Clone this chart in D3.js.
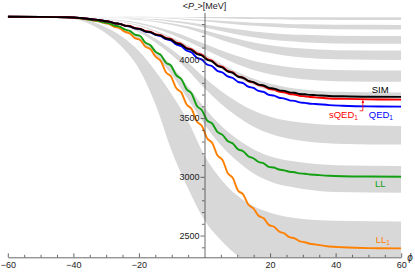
<!DOCTYPE html>
<html>
<head>
<meta charset="utf-8">
<script src="https://cdn.jsdelivr.net/npm/d3@7"></script>
<style>
  body { margin: 0; background: #fff; }
  text { font-family: "Liberation Sans", Arial, sans-serif; }
</style>
</head>
<body>
<div id="chart"></div>
<script>
// phase grid for the five curves (denser where they wiggle)
var phi = [-60, -50, -42, -38, -33.77, -32.20, -30.63, -29.06, -27.49, -25.92, -24.35, -22.78, -21.21, -19.63, -18.06,
  -16.49, -14.92, -13.35, -11.78, -10.21, -8.64, -7.07, -5.50, -3.93, -2.36, -0.79, 0.79, 2.36, 3.93, 5.50, 7.07,
  8.64, 10.21, 11.78, 13.35, 14.92, 16.49, 18.06, 19.63, 21.21, 22.78, 24.35, 25.92, 27.49, 29.06, 30.63, 32.20,
  33.77, 38, 42, 50, 60];

var sim = [4362, 4361, 4358, 4352, 4339, 4335, 4326, 4321, 4307, 4302, 4287, 4281, 4264, 4258, 4238,
  4231, 4210, 4201, 4177, 4168, 4137, 4125, 4092, 4079, 4045, 4032, 3996, 3982, 3944, 3930, 3897,
  3885, 3853, 3843, 3816, 3806, 3785, 3777, 3757, 3751, 3736, 3731, 3719, 3715, 3705, 3702, 3697,
  3695, 3688, 3685, 3681, 3680];

var sqed1 = [4362, 4361, 4358, 4352, 4339, 4335, 4326, 4321, 4307, 4302, 4287, 4283, 4266, 4261, 4241,
  4235, 4214, 4205, 4182, 4173, 4142, 4130, 4097, 4085, 4051, 4038, 4002, 3987, 3949, 3935, 3901,
  3888, 3855, 3844, 3815, 3804, 3781, 3771, 3749, 3742, 3725, 3719, 3705, 3700, 3689, 3685, 3679,
  3676, 3667, 3664, 3659, 3657];

var qed1 = [4362, 4361, 4358, 4352, 4339, 4335, 4326, 4321, 4307, 4302, 4287, 4280, 4263, 4257, 4236,
  4229, 4207, 4197, 4171, 4161, 4127, 4112, 4075, 4058, 4014, 3997, 3956, 3941, 3902, 3888, 3854,
  3841, 3808, 3797, 3767, 3756, 3731, 3722, 3698, 3691, 3673, 3666, 3651, 3646, 3633, 3629, 3622,
  3620, 3610, 3605, 3599, 3597];

var ll = [4362, 4361, 4358, 4350, 4331, 4326, 4314, 4307, 4287, 4279, 4254, 4242, 4210, 4198, 4142,
  4120, 4063, 4037, 3972, 3946, 3865, 3832, 3746, 3708, 3605, 3566, 3480, 3453, 3382, 3357, 3304,
  3284, 3234, 3218, 3175, 3158, 3126, 3115, 3085, 3079, 3062, 3055, 3043, 3039, 3029, 3026, 3020,
  3017, 3009, 3005, 3002, 3001];

var ll1 = [4362, 4361, 4358, 4348, 4329, 4323, 4310, 4301, 4276, 4266, 4235, 4220, 4180, 4165, 4108,
  4086, 4022, 3985, 3890, 3854, 3755, 3717, 3617, 3577, 3473, 3432, 3328, 3287, 3183, 3143, 3032,
  2989, 2884, 2851, 2764, 2731, 2669, 2647, 2591, 2575, 2534, 2518, 2486, 2477, 2451, 2443, 2430,
  2425, 2407, 2400, 2393, 2391];

// gray bands: upper and lower edge of each band on a coarser grid
var bandPhi = [-60, -45, -40, -35, -30, -25, -20, -15, -10, -5, 0, 5, 10, 15, 20, 25, 30, 40, 60];

var bandHi = [
  [4362, 4362, 4362, 4362, 4362, 4362, 4362, 4361, 4361, 4361, 4360, 4360, 4359, 4358, 4358, 4358, 4357, 4357, 4357],
  [4362, 4362, 4362, 4362, 4361, 4360, 4358, 4355, 4351, 4344, 4337, 4328, 4320, 4312, 4306, 4301, 4298, 4293, 4292],
  [4362, 4362, 4362, 4361, 4359, 4355, 4350, 4342, 4331, 4316, 4296, 4275, 4255, 4237, 4224, 4214, 4208, 4200, 4198],
  [4362, 4362, 4361, 4360, 4356, 4350, 4340, 4327, 4307, 4281, 4247, 4209, 4175, 4143, 4120, 4103, 4091, 4078, 4074],
  [4362, 4361, 4359, 4355, 4346, 4332, 4312, 4280, 4238, 4188, 4133, 4078, 4028, 3986, 3957, 3936, 3922, 3909, 3904],
  [4362, 4361, 4358, 4352, 4340, 4320, 4291, 4246, 4188, 4117, 4040, 3963, 3892, 3834, 3792, 3763, 3744, 3724, 3718],
  [4362, 4360, 4355, 4343, 4325, 4297, 4251, 4176, 4083, 3972, 3842, 3730, 3637, 3563, 3512, 3479, 3459, 3440, 3433],
  [4362, 4358, 4349, 4334, 4305, 4260, 4191, 4083, 3943, 3766, 3588, 3436, 3321, 3233, 3175, 3141, 3121, 3099, 3093],
  [4362, 4360, 4352, 4325, 4270, 4190, 4070, 3900, 3700, 3470, 3180, 2980, 2840, 2750, 2695, 2660, 2640, 2625, 2619]
];

var bandLo = [
  [4362, 4362, 4362, 4362, 4362, 4361, 4360, 4359, 4357, 4355, 4352, 4349, 4345, 4342, 4340, 4338, 4336, 4335, 4334],
  [4362, 4362, 4362, 4362, 4360, 4359, 4356, 4351, 4345, 4335, 4323, 4310, 4297, 4285, 4276, 4268, 4263, 4256, 4254],
  [4362, 4362, 4362, 4360, 4357, 4353, 4345, 4334, 4318, 4298, 4270, 4240, 4212, 4187, 4169, 4155, 4146, 4135, 4132],
  [4362, 4362, 4361, 4359, 4355, 4347, 4334, 4318, 4292, 4259, 4215, 4167, 4123, 4082, 4053, 4031, 4016, 4000, 3994],
  [4362, 4361, 4359, 4354, 4343, 4326, 4301, 4262, 4212, 4152, 4085, 4019, 3958, 3908, 3872, 3847, 3830, 3814, 3808],
  [4362, 4361, 4358, 4351, 4337, 4316, 4284, 4235, 4171, 4093, 4008, 3923, 3845, 3781, 3735, 3704, 3682, 3661, 3654],
  [4362, 4360, 4353, 4340, 4318, 4286, 4231, 4144, 4036, 3905, 3753, 3622, 3513, 3426, 3366, 3328, 3304, 3282, 3274],
  [4362, 4357, 4347, 4329, 4295, 4242, 4160, 4032, 3868, 3658, 3448, 3268, 3134, 3029, 2961, 2921, 2897, 2871, 2864],
  [4362, 4358, 4345, 4300, 4220, 4100, 3920, 3620, 3220, 2900, 2630, 2460, 2330, 2230, 2170, 2130, 2110, 2095, 2090]
];

var xMajor = [-60, -40, -20, 20, 40, 60];
var xMinor = [-55, -50, -45, -35, -30, -25, -15, -10, -5, 5, 10, 15, 25, 30, 35, 45, 50, 55];
var yMajor = [2500, 3000, 3500, 4000];
var yMinor = [2400, 2600, 2700, 2800, 2900, 3100, 3200, 3300, 3400, 3600, 3700, 3800, 3900, 4100, 4200, 4300];

var svgWidth = 415;
var svgHeight = 272;

var svg = d3.select("#chart")
  .append("svg")
  .attr("width", svgWidth)
  .attr("height", svgHeight);

var x = d3.scaleLinear().domain([-60, 60]).range([7.8, 401.2]);
var y = d3.scaleLinear().domain([2315, 4400]).range([257.3, 12.3]);

svg.append("clipPath").attr("id", "plotClip")
  .append("rect")
  .attr("x", x(-60)).attr("y", y(4400))
  .attr("width", x(60) - x(-60)).attr("height", y(2315) - y(4400));

// gray bands
var area = d3.area()
  .x(function(d) { return x(d[0]); })
  .y0(function(d) { return y(d[2]); })
  .y1(function(d) { return y(d[1]); })
  .curve(d3.curveMonotoneX);

var bandGroup = svg.append("g").attr("clip-path", "url(#plotClip)");
bandHi.forEach(function(hi, i) {
  var pts = bandPhi.map(function(p, j) { return [p, hi[j], bandLo[i][j]]; });
  bandGroup.append("path")
    .attr("d", area(pts))
    .attr("fill", "#d8d8d8");
});

// curves
var line = d3.line()
  .x(function(d) { return x(d[0]); })
  .y(function(d) { return y(d[1]); })
  .curve(d3.curveMonotoneX);

var curves = [
  { vals: ll1, color: "#ff8000" },
  { vals: ll, color: "#12a012" },
  { vals: qed1, color: "#0000ff" },
  { vals: sqed1, color: "#ff0000" },
  { vals: sim, color: "#000000" }
];

var lineGroup = svg.append("g").attr("clip-path", "url(#plotClip)");
curves.forEach(function(c) {
  lineGroup.append("path")
    .attr("d", line(phi.map(function(p, j) { return [p, c.vals[j]]; })))
    .attr("fill", "none")
    .attr("stroke", c.color)
    .attr("stroke-width", 1.9)
    .attr("stroke-linejoin", "round");
});

// axes
var axisColor = "#444";

var yMinorAxis = d3.axisLeft(y).tickValues(yMinor).tickSize(2.5).tickFormat("");
svg.append("g")
  .attr("transform", "translate(" + x(0) + ",0)")
  .call(yMinorAxis)
  .call(function(g) { g.select(".domain").remove(); });

var yAxis = d3.axisLeft(y).tickValues(yMajor).tickSize(4).tickSizeOuter(0).tickPadding(1).tickFormat(d3.format("d"));
svg.append("g")
  .attr("transform", "translate(" + x(0) + ",0)")
  .call(yAxis);

var xMinorAxis = d3.axisBottom(x).tickValues(xMinor).tickSize(-2.5).tickFormat("");
svg.append("g")
  .attr("transform", "translate(0," + y(2315) + ")")
  .call(xMinorAxis)
  .call(function(g) { g.select(".domain").remove(); });

var xAxis = d3.axisBottom(x).tickValues(xMajor).tickSize(-4).tickSizeOuter(0).tickPadding(4)
  .tickFormat(function(d) { return d < 0 ? "\u2212" + Math.abs(d) : d; });
svg.append("g")
  .attr("transform", "translate(0," + y(2315) + ")")
  .call(xAxis);

svg.selectAll(".domain, .tick line").attr("stroke", axisColor).attr("stroke-width", 0.8);
svg.selectAll(".tick text").attr("fill", "#222").attr("font-size", "9px")
  .attr("font-family", "'Liberation Sans', Arial, sans-serif");

// axis labels
var yLabel = svg.append("text")
  .attr("x", x(0))
  .attr("y", 8.5)
  .attr("text-anchor", "middle")
  .attr("font-size", "9px")
  .attr("fill", "#222");
yLabel.append("tspan").text("<");
yLabel.append("tspan").attr("font-style", "italic").text("P");
yLabel.append("tspan").attr("font-size", "6.5px").attr("dy", 2).text("\u2013");
yLabel.append("tspan").attr("dy", -2).text(">[MeV]");

svg.append("text")
  .attr("x", x(60) + 6)
  .attr("y", y(2315) + 3.5)
  .attr("font-size", "10px")
  .attr("font-style", "italic")
  .attr("fill", "#222")
  .text("\u03d5");

// curve labels
function label(txt, sub, px, py, color, anchor) {
  var t = svg.append("text")
    .attr("x", x(px))
    .attr("y", y(py))
    .attr("text-anchor", anchor)
    .attr("font-size", "9.5px")
    .attr("fill", color);
  t.append("tspan").text(txt);
  if (sub) {
    t.append("tspan").attr("font-size", "6.5px").attr("dy", 2).text(sub);
  }
}

label("SIM", "", 53.6, 3709, "#000", "middle");
label("sQED", "1", 46.8, 3500, "#ff0000", "end");
label("QED", "1", 53.8, 3500, "#0000ff", "middle");
label("LL", "", 53.6, 2913, "#12a012", "middle");
label("LL", "1", 54.4, 2437, "#ff8000", "middle");

// red arrow from the sQED1 label to its curve
svg.append("defs").append("marker")
  .attr("id", "arrowRed")
  .attr("viewBox", "0 0 6 6")
  .attr("refX", 5).attr("refY", 3)
  .attr("markerWidth", 4).attr("markerHeight", 4)
  .attr("orient", "auto")
  .append("path").attr("d", "M0,0.5 L6,3 L0,5.5 Z").attr("fill", "#ff0000");

svg.append("path")
  .attr("d", "M" + x(47.3) + "," + y(3562) + "H" + x(48.3) + "V" + y(3650))
  .attr("fill", "none")
  .attr("stroke", "#ff0000")
  .attr("stroke-width", 0.8)
  .attr("marker-end", "url(#arrowRed)");
</script>
</body>
</html>
